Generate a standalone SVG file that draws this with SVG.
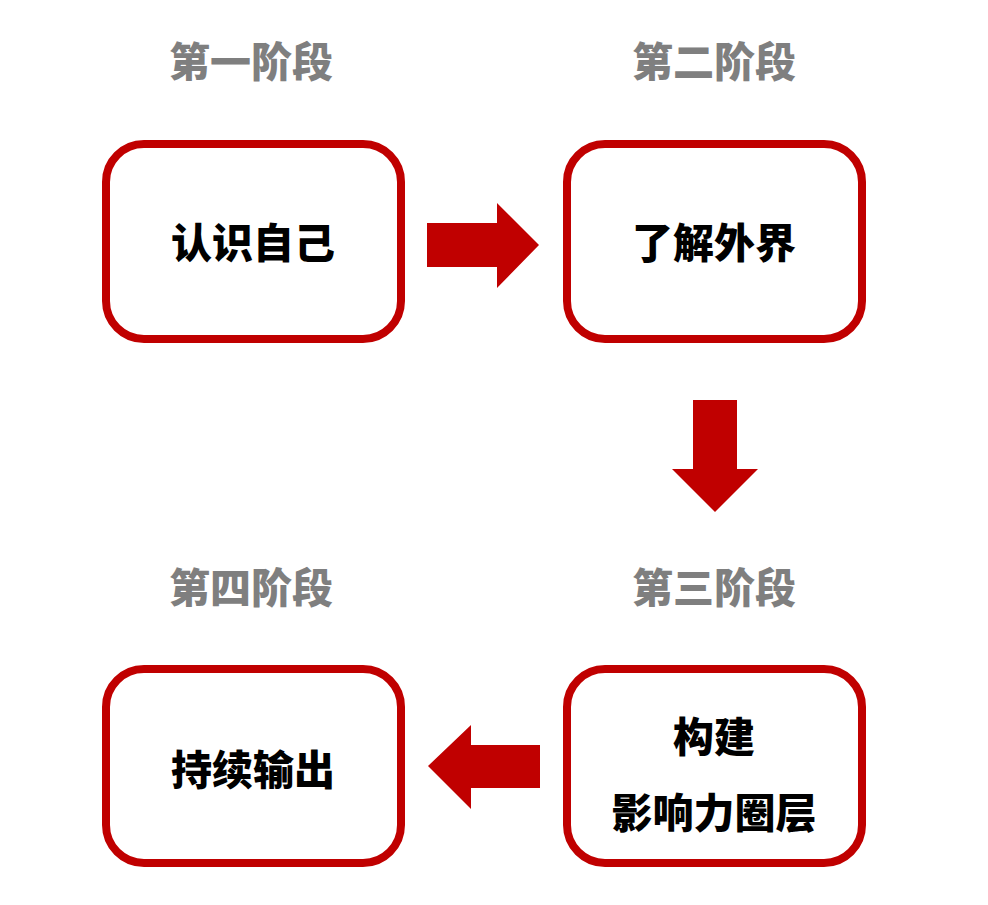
<svg xmlns="http://www.w3.org/2000/svg" width="988" height="905" viewBox="0 0 988 905">
<style>
.box{fill:#fff;stroke:#C00000;stroke-width:8}
.t{font-family:"Noto Sans CJK SC","Noto Sans",sans-serif;font-weight:900;font-size:41px;text-anchor:middle;fill:#000}
.h{font-family:"Noto Sans CJK SC","Noto Sans",sans-serif;font-weight:900;font-size:41px;text-anchor:middle;fill:#7f7f7f}
.arr{fill:#C00000}
</style>
<rect width="988" height="905" fill="#fff"/>
<g id="titles">
<text class="h" x="251" y="77">第一阶段</text>
<text class="h" x="714" y="77">第二阶段</text>
<text class="h" x="251" y="603">第四阶段</text>
<text class="h" x="714" y="603">第三阶段</text>
</g>
<g id="node1">
<rect class="box" x="106" y="144" width="295" height="195" rx="38"/>
<text class="t" x="253" y="258">认识自己</text>
</g>
<g id="node2">
<rect class="box" x="567" y="144" width="295" height="195" rx="38"/>
<text class="t" x="714" y="258">了解外界</text>
</g>
<g id="node3">
<rect class="box" x="567" y="669" width="295" height="194" rx="38"/>
<text class="t" x="714" y="752">构建</text>
<text class="t" x="714" y="828">影响力圈层</text>
</g>
<g id="node4">
<rect class="box" x="106" y="669" width="295" height="194" rx="38"/>
<text class="t" x="253" y="785">持续输出</text>
</g>
<g id="connectors">
<polygon class="arr" points="427,223 497,223 497,203 539,245 497,288 497,267 427,267"/>
<polygon class="arr" points="693,400 737,400 737,469 758,469 715,512 672,469 693,469"/>
<polygon class="arr" points="540,745 471,745 471,725 428,766 471,809 471,788 540,788"/>
</g>
</svg>
